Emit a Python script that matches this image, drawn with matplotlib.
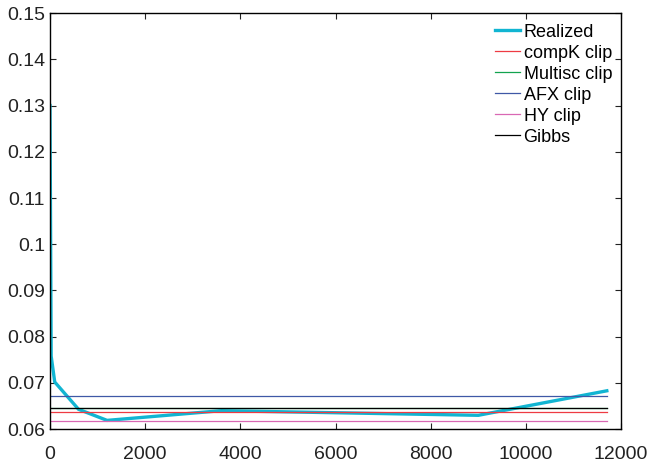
import matplotlib
matplotlib.use("Agg")
import matplotlib.pyplot as plt
import numpy as np

plt.rcParams['font.family'] = ['Liberation Sans', 'DejaVu Sans']

# realized curve
realized_x = [0, 25, 100, 600, 1200, 3600, 9000, 11700]
realized_y = [0.130, 0.0758, 0.0702, 0.0643, 0.0619, 0.0640, 0.0630, 0.0683]

# flat reference levels
clip_names = ['compK clip', 'Multisc clip', 'AFX clip', 'HY clip', 'Gibbs']
clip_levels = [0.0637, 0.0645, 0.0672, 0.0618, 0.0645]
clip_colors = ['#ee3b43', '#12a34f', '#3f58a6', '#d968b4', '#000000']
x_span = [0, 11700]

fig = plt.figure(figsize=(6.49, 4.67), dpi=100)
ax = fig.add_axes([0.077, 0.081, 0.880, 0.891])

ax.plot(realized_x, realized_y, color='#11b5d2', lw=2.4, label='Realized',
        solid_joinstyle='miter')
for name, lev, col in zip(clip_names, clip_levels, clip_colors):
    ax.plot(x_span, [lev, lev], color=col, lw=0.9, label=name)

ax.set_xlim(0, 12000)
ax.set_ylim(0.06, 0.15)
ax.set_xticks(np.arange(0, 12001, 2000))
ax.set_yticks(np.arange(0.06, 0.1501, 0.01))
ax.set_yticklabels(['0.06', '0.07', '0.08', '0.09', '0.1', '0.11', '0.12',
                    '0.13', '0.14', '0.15'])
ax.tick_params(direction='in', top=True, right=True, length=4, width=0.8,
               labelsize=14, colors='#222222')
ax.tick_params(axis='x', pad=12)
ax.tick_params(axis='y', pad=3.5)
for sp in ax.spines.values():
    sp.set_linewidth(1.0)

leg = ax.legend(loc='upper left', bbox_to_anchor=(0.763, 0.949),
                bbox_transform=fig.transFigure, frameon=False, fontsize=13,
                handlelength=1.4, handletextpad=0.17, labelspacing=0.22,
                borderpad=0, borderaxespad=0)

fig.savefig('out.png', dpi=100)
